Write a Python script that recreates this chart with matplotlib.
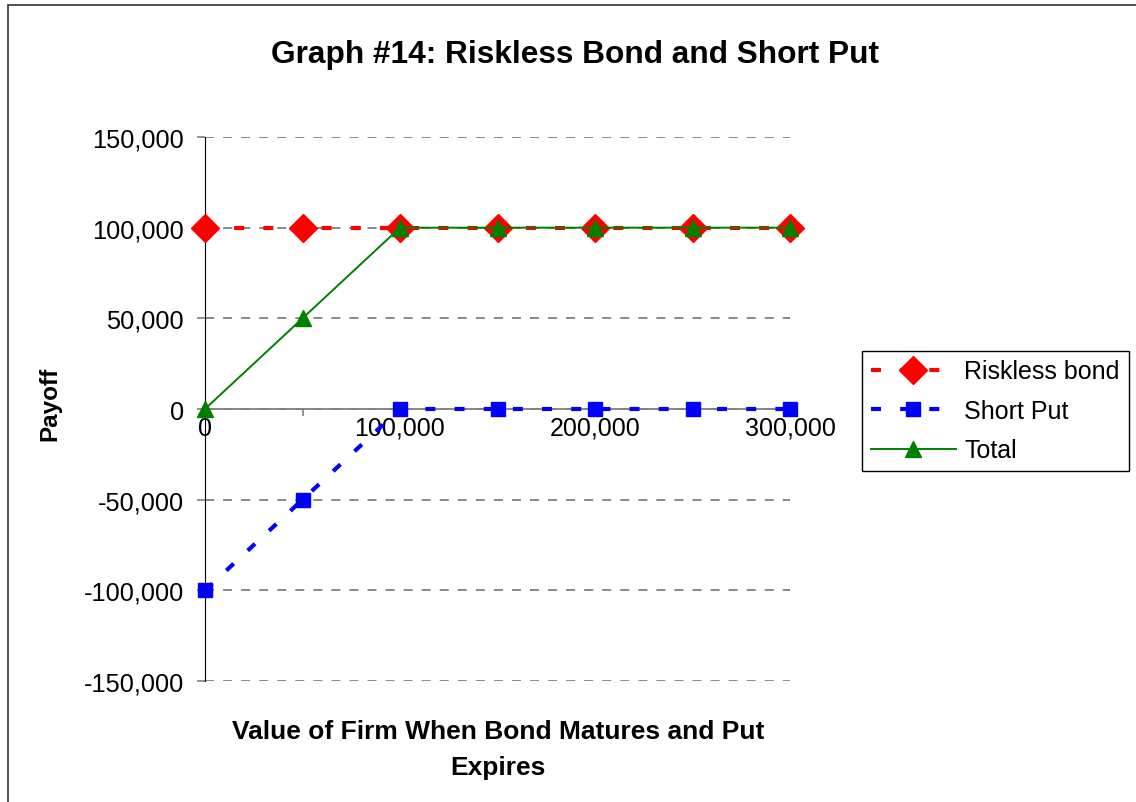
import matplotlib
matplotlib.use("Agg")
import matplotlib.pyplot as plt
from matplotlib.patches import Rectangle
from matplotlib.ticker import FuncFormatter

plt.rcParams['font.family'] = ['Liberation Sans', 'DejaVu Sans']

# data
firm_value = [0, 50000, 100000, 150000, 200000, 250000, 300000]
riskless_bond = [100000, 100000, 100000, 100000, 100000, 100000, 100000]
short_put = [-100000, -50000, 0, 0, 0, 0, 0]
total = [0, 50000, 100000, 100000, 100000, 100000, 100000]

y_ticks = [-150000, -100000, -50000, 0, 50000, 100000, 150000]
x_ticks = [0, 50000, 100000, 150000, 200000, 250000, 300000]
x_labels = ["0", "", "100,000", "", "200,000", "", "300,000"]

W, H = 1136, 803
fig = plt.figure(figsize=(W / 100, H / 100), dpi=100)
ax = fig.add_axes([205 / W, (H - 682) / H, 585 / W, 544 / H])

# chart-area frame (only top and left edges visible in the picture)
fig.patches.append(Rectangle((8 / W, -0.1), 1.2, (H - 6) / H + 0.1,
                             transform=fig.transFigure, fill=False,
                             edgecolor='#333333', linewidth=1.2))

ax.plot(firm_value, riskless_bond, color='#ff0000', linewidth=3, dashes=(2.4, 4.6),
        marker='D', markersize=14, label='Riskless bond', clip_on=False, zorder=3)
ax.plot(firm_value, short_put, color='#0000ff', linewidth=3, dashes=(2.4, 4.6),
        marker='s', markersize=9.5, label='Short Put', clip_on=False, zorder=3)
ax.plot(firm_value, total, color='#008000', linewidth=1.4,
        marker='^', markersize=11, label='Total', clip_on=False, zorder=4)

ax.set_xlim(0, 300000)
ax.set_ylim(-150000, 150000)
ax.set_yticks(y_ticks)
ax.set_xticks(x_ticks)
ax.set_xticklabels(x_labels)
ax.yaxis.set_major_formatter(FuncFormatter(lambda v, p: f"{v:,.0f}"))

ax.grid(axis='y', color='#808080', linestyle=(0, (5, 5)), linewidth=1.3)
ax.set_axisbelow(True)

for s in ['top', 'right']:
    ax.spines[s].set_visible(False)
ax.spines['bottom'].set_position(('data', 0))
ax.spines['bottom'].set_color('#808080')
ax.spines['bottom'].set_linewidth(1.3)
ax.spines['bottom'].set_zorder(2)
ax.spines['left'].set_color('black')

ax.tick_params(axis='x', direction='out', length=5, width=1.2, color='#808080', pad=0, labelsize=18)
ax.tick_params(axis='y', direction='out', length=6, width=1.2, color='#808080', pad=9, labelsize=18.3)

fig.text(575 / W, (H - 55) / H, "Graph #14: Riskless Bond and Short Put",
         ha='center', va='center', fontsize=22.8, fontweight='bold')
fig.text(498 / W, (H - 750) / H, "Value of Firm When Bond Matures and Put\nExpires",
         ha='center', va='center', fontsize=19, fontweight='bold', linespacing=1.6)
fig.text(50 / W, (H - 404) / H, "Payoff", ha='center', va='center',
         rotation=90, fontsize=17.5, fontweight='bold')

leg = fig.legend(loc='center left', bbox_to_anchor=(862 / W, (H - 412) / H),
                 fontsize=18, handlelength=3.4, handletextpad=0.35,
                 labelspacing=0.62, borderpad=0.35, borderaxespad=0, fancybox=False,
                 edgecolor='black', framealpha=1)
leg.get_frame().set_linewidth(1)

fig.savefig("out.png", dpi=100)
